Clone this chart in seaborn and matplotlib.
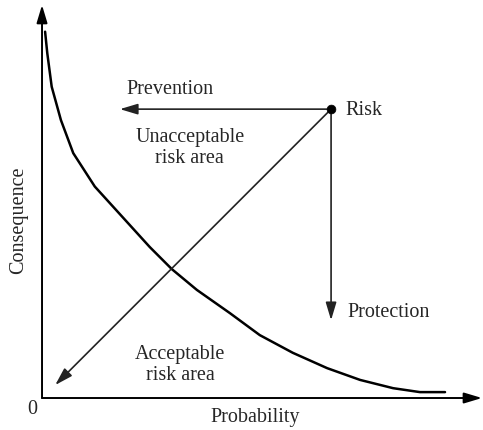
import pandas as pd
import matplotlib.pyplot as plt
import seaborn as sns

# Risk curve (probability vs consequence)
curve_prob = [0.007, 0.012, 0.022, 0.043, 0.071, 0.120, 0.189, 0.245,
              0.295, 0.352, 0.427, 0.495, 0.570, 0.648, 0.723, 0.798, 0.859, 0.916]
curve_cons = [0.932, 0.877, 0.792, 0.707, 0.623, 0.538, 0.453, 0.384,
              0.328, 0.275, 0.216, 0.160, 0.115, 0.076, 0.046, 0.025, 0.015, 0.015]

# The risk point and where its arrows go
risk_point = (0.657, 0.735)
prevention_tip = (0.177, 0.735)
protection_tip = (0.657, 0.198)
reduction_tip = (0.030, 0.033)

sns.set_theme(style="white")
plt.rcParams['font.family'] = ['Liberation Serif', 'DejaVu Serif']

fig = plt.figure(figsize=(4.83, 4.30), dpi=100)
ax = fig.add_axes([0, 0, 1, 1])
ax.set_xlim(-0.0955, 1.0023)
ax.set_ylim(-0.0814, 1.0127)
ax.axis('off')

head = '-|>,head_length=0.9,head_width=0.27'

def arrow(start, end, lw=1.2, color='#222222'):
    ax.annotate('', xy=end, xytext=start,
                arrowprops=dict(arrowstyle=head, mutation_scale=12, lw=lw,
                                color=color, shrinkA=0, shrinkB=0))

# axes with arrow heads
arrow((0, 0), (1.0, 0), lw=1.4, color='black')
arrow((0, 0), (0, 1.0), lw=1.4, color='black')

df = pd.DataFrame({'prob': curve_prob, 'cons': curve_cons})
sns.lineplot(data=df, x='prob', y='cons', ax=ax, color='black', lw=1.8, sort=False)

arrow(risk_point, prevention_tip)
arrow(risk_point, protection_tip)
arrow(risk_point, reduction_tip)

sns.scatterplot(x=[risk_point[0]], y=[risk_point[1]], ax=ax, color='black', s=40,
                edgecolor='black', zorder=5)

fs = 14.5
ax.text(0.291, 0.786, 'Prevention', ha='center', va='center', fontsize=fs)
ax.text(0.689, 0.732, 'Risk', ha='left', va='center', fontsize=fs)
ax.text(0.336, 0.637, 'Unacceptable\nrisk area', ha='center', va='center',
        fontsize=fs, linespacing=1.15)
ax.text(0.695, 0.218, 'Protection', ha='left', va='center', fontsize=fs)
ax.text(0.314, 0.084, 'Acceptable\nrisk area', ha='center', va='center',
        fontsize=fs, linespacing=1.15)
ax.text(-0.022, -0.030, '0', ha='center', va='center', fontsize=fs)
ax.text(0.484, -0.050, 'Probability', ha='center', va='center', fontsize=fs)
ax.text(-0.054, 0.453, 'Consequence', ha='center', va='center',
        rotation=90, fontsize=fs)

fig.savefig('out.png', dpi=100)
